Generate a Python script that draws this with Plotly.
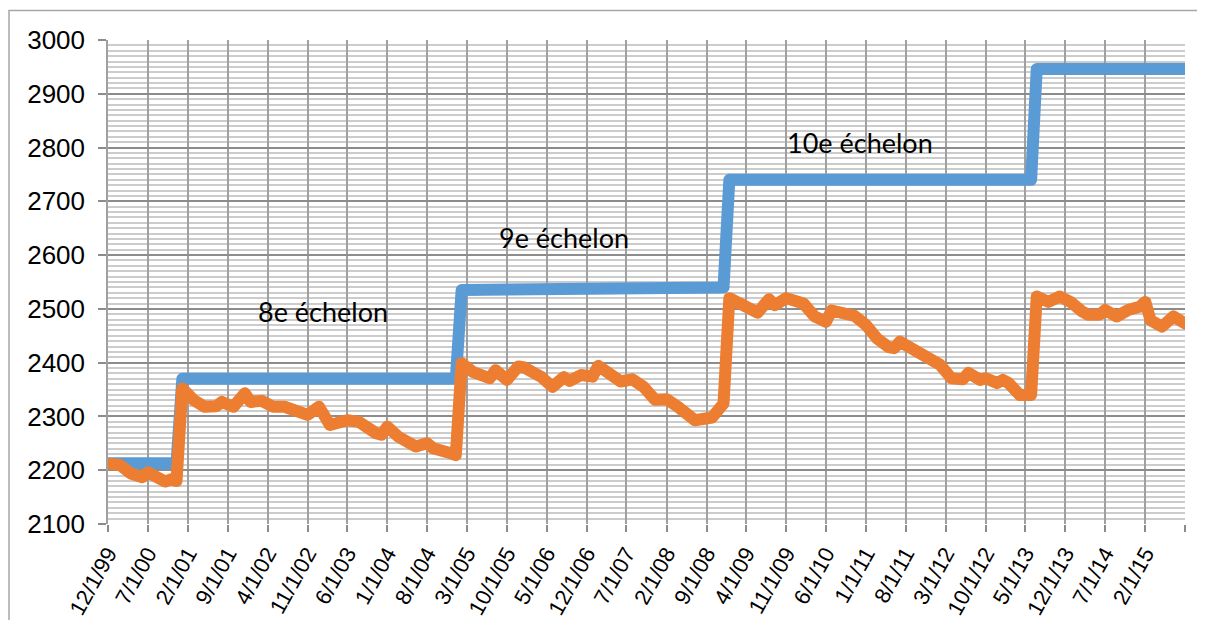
import plotly.graph_objects as go

# --- data -------------------------------------------------------------
blue_dates = ["1999-12-01", "2000-12-01", "2001-01-01", "2005-01-01", "2005-02-01",
              "2006-10-01", "2006-12-01", "2008-12-01", "2009-01-01", "2013-06-01",
              "2013-07-01", "2015-09-01"]
blue_values = [2213, 2213, 2370, 2370, 2535, 2535, 2540, 2540, 2740, 2740, 2946, 2946]

orange_dates = [
    "1999-12-01", "2000-02-01", "2000-04-01", "2000-05-01", "2000-06-01", "2000-07-01",
    "2000-08-01", "2000-10-01", "2000-11-01", "2000-12-01", "2001-01-01", "2001-03-01",
    "2001-05-01", "2001-07-01", "2001-08-01", "2001-10-01", "2001-12-01", "2002-01-01",
    "2002-03-01", "2002-05-01", "2002-07-01", "2002-11-01", "2003-01-01", "2003-03-01",
    "2003-06-01", "2003-08-01", "2003-11-01", "2003-12-01", "2004-01-01", "2004-03-01",
    "2004-06-01", "2004-08-01", "2004-09-01", "2004-11-01", "2004-12-01", "2005-01-01",
    "2005-02-01", "2005-04-01", "2005-07-01", "2005-08-01", "2005-10-01", "2005-12-01",
    "2006-01-01", "2006-04-01", "2006-06-01", "2006-08-01", "2006-09-01", "2006-11-01",
    "2007-01-01", "2007-02-01", "2007-04-01", "2007-06-01", "2007-08-01", "2007-10-01",
    "2007-12-01", "2008-02-01", "2008-04-01", "2008-07-01", "2008-10-01", "2008-12-01",
    "2009-01-01", "2009-04-01", "2009-06-01", "2009-08-01", "2009-09-01", "2009-11-01",
    "2009-12-01", "2010-02-01", "2010-04-01", "2010-06-01", "2010-07-01", "2010-10-01",
    "2010-11-01", "2011-01-01", "2011-03-01", "2011-05-01", "2011-06-01", "2011-07-01",
    "2011-09-01", "2011-11-01", "2012-01-01", "2012-02-01", "2012-04-01", "2012-06-01",
    "2012-07-01", "2012-09-01", "2012-10-01", "2012-12-01", "2013-01-01", "2013-02-01",
    "2013-04-01", "2013-06-01", "2013-07-01", "2013-09-01", "2013-11-01", "2014-01-01",
    "2014-03-01", "2014-04-01", "2014-06-01", "2014-07-01", "2014-09-01", "2014-10-01",
    "2014-11-01", "2015-01-01", "2015-02-01", "2015-03-01", "2015-05-01", "2015-07-01",
    "2015-09-01"]
orange_values = [
    2212, 2210, 2194, 2193, 2187, 2196,
    2191, 2179, 2183, 2180, 2352, 2331,
    2318, 2319, 2327, 2318, 2343, 2327,
    2329, 2318, 2318, 2303, 2318, 2284,
    2293, 2290, 2269, 2266, 2281, 2262,
    2244, 2250, 2241, 2231, 2232, 2228,
    2399, 2383, 2371, 2386, 2368, 2393,
    2391, 2374, 2355, 2373, 2366, 2377,
    2374, 2394, 2377, 2365, 2369, 2355,
    2331, 2332, 2318, 2293, 2298, 2324,
    2520, 2504, 2493, 2518, 2507, 2520,
    2516, 2510, 2486, 2476, 2497, 2492,
    2487, 2470, 2445, 2429, 2427, 2439,
    2427, 2420, 2405, 2396, 2371, 2369,
    2381, 2368, 2371, 2362, 2368, 2362,
    2340, 2340, 2523, 2513, 2523, 2512,
    2495, 2489, 2489, 2498, 2486, 2495,
    2498, 2504, 2513, 2479, 2467, 2486,
    2473]

tick_dates = ["1999-12-01", "2000-07-01", "2001-02-01", "2001-09-01", "2002-04-01",
              "2002-11-01", "2003-06-01", "2004-01-01", "2004-08-01", "2005-03-01",
              "2005-10-01", "2006-05-01", "2006-12-01", "2007-07-01", "2008-02-01",
              "2008-09-01", "2009-04-01", "2009-11-01", "2010-06-01", "2011-01-01",
              "2011-08-01", "2012-03-01", "2012-10-01", "2013-05-01", "2013-12-01",
              "2014-07-01", "2015-02-01", "2015-09-01"]
tick_labels = ["12/1/99", "7/1/00", "2/1/01", "9/1/01", "4/1/02", "11/1/02", "6/1/03",
               "1/1/04", "8/1/04", "3/1/05", "10/1/05", "5/1/06", "12/1/06", "7/1/07",
               "2/1/08", "9/1/08", "4/1/09", "11/1/09", "6/1/10", "1/1/11", "8/1/11",
               "3/1/12", "10/1/12", "5/1/13", "12/1/13", "7/1/14", "2/1/15", ""]

labels = ["8e échelon", "9e échelon", "10e échelon"]
label_x = ["2003-01-20", "2006-08-01", "2010-12-01"]
label_y = [2496, 2632, 2810]

# --- figure -----------------------------------------------------------
fig = go.Figure()
fig.add_trace(go.Scatter(x=blue_dates, y=blue_values, mode="lines",
                         line=dict(color="#5B9BD5", width=12), showlegend=False))
fig.add_trace(go.Scatter(x=orange_dates, y=orange_values, mode="lines",
                         line=dict(color="#ED7D31", width=12), showlegend=False))

for t, x, y in zip(labels, label_x, label_y):
    fig.add_annotation(x=x, y=y, text=t, showarrow=False,
                       font=dict(family="Lato", size=27, color="#000000"))

# page has an 8px body margin; plot area should sit at page x 108..1185, y 40..524
OFF = 8
W, H = 1205, 620
L = 108 - OFF
T = 40 - OFF
R = W - (1185 - OFF)
B = H - (524 - OFF)
pw, ph = W - L - R, H - T - B

fig.add_shape(type="rect", xref="paper", yref="paper",
              x0=(9 - OFF - L) / pw, x1=(1230 - L) / pw,
              y0=(H - B - 700) / ph, y1=(H - B - (10.5 - OFF)) / ph,
              line=dict(color="#A6A6A6", width=1.5), layer="below")

fig.update_layout(
    width=W, height=H,
    margin=dict(l=L, r=R, t=T, b=B, autoexpand=False),
    paper_bgcolor="white", plot_bgcolor="white",
    xaxis=dict(
        type="date", range=["1999-12-01", "2015-09-01"], automargin=False,
        tickmode="array", tickvals=tick_dates, ticktext=tick_labels,
        tickangle=-61, tickfont=dict(family="Liberation Sans", size=22, color="#000"),
        ticks="outside", ticklen=7, tickcolor="#8C8C8C", tickwidth=1.5,
        showgrid=True, gridcolor="#A0A0A0", gridwidth=1.5,
        showline=False, zeroline=False,
    ),
    yaxis=dict(
        range=[2100, 3000], dtick=100, tick0=2100, automargin=False,
        tickfont=dict(family="Liberation Sans", size=26, color="#000"),
        ticks="outside", ticklen=8, tickcolor="#8C8C8C", tickwidth=1.5,
        ticklabelstandoff=8,
        showgrid=True, gridcolor="#8C8C8C", gridwidth=1.5,
        minor=dict(dtick=10, showgrid=True, gridcolor="#CCCCCC", gridwidth=1.5),
        showline=True, linecolor="#A0A0A0", linewidth=1.5,
        zeroline=False,
    ),
)

round_joins = """
var gd = document.getElementById('{plot_id}');
function rj(){ gd.querySelectorAll('.scatterlayer path.js-line').forEach(function(p){
  p.style.strokeLinejoin='round'; p.style.strokeLinecap='round'; }); }
rj(); gd.on('plotly_afterplot', rj);
"""
fig.write_html("out.html", post_script=round_joins)
